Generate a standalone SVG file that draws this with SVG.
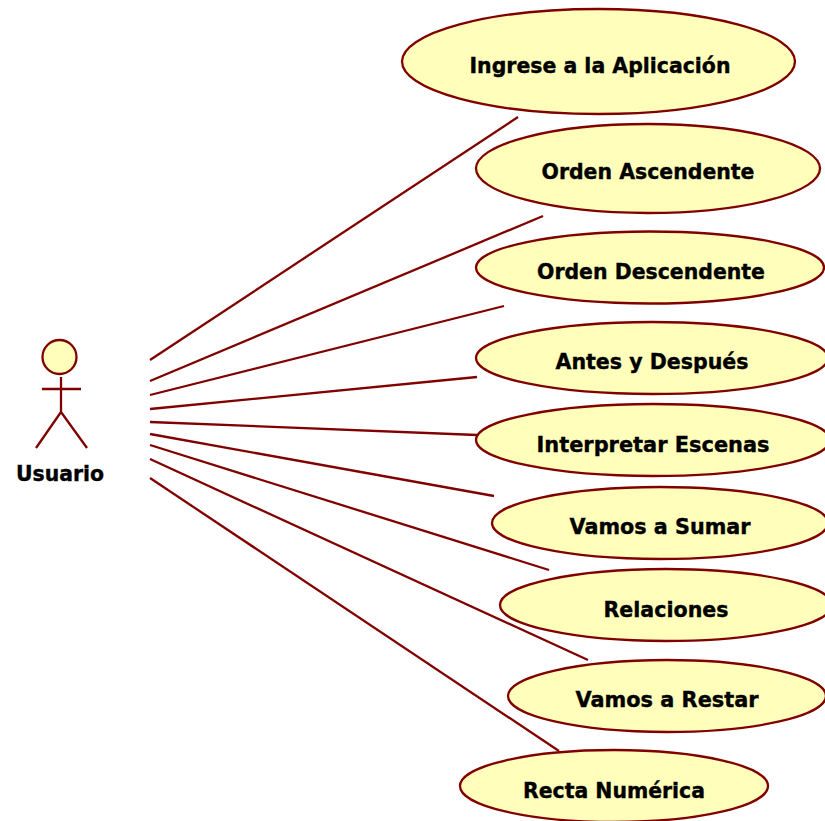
<svg xmlns="http://www.w3.org/2000/svg" width="825" height="821" viewBox="0 0 825 821">
<style>
.e{fill:#ffffbb;stroke:#800000;stroke-width:2.300}
.l{stroke:#800000;stroke-width:2.300;fill:none}
text{font-family:"DejaVu Sans",sans-serif;font-weight:700;font-size:22px;fill:#000;stroke:#000;stroke-width:0.400;text-anchor:middle}
</style>
<rect width="825" height="821" fill="#fff"/>
<g id="connectors" class="l">
<line x1="150" y1="360" x2="518" y2="117"/>
<line x1="150" y1="381" x2="543" y2="216"/>
<line x1="150" y1="395" x2="504" y2="306"/>
<line x1="150" y1="409" x2="477" y2="377"/>
<line x1="150" y1="422" x2="477" y2="435"/>
<line x1="150" y1="434" x2="494" y2="496"/>
<line x1="150" y1="445" x2="549" y2="570"/>
<line x1="150" y1="459" x2="588" y2="660"/>
<line x1="150" y1="478" x2="559" y2="751"/>
</g>
<g id="actor-usuario">
<circle cx="59.500" cy="357" r="17" class="e"/>
<path class="l" d="M61 377V412M42 389H81M61 412L36 448M61 412L87 448"/>
<text x="60" y="481" textLength="88" lengthAdjust="spacingAndGlyphs">Usuario</text>
</g>
<g id="uc-ingrese"><ellipse cx="598.500" cy="61.500" rx="196.500" ry="52.500" class="e"/><text x="600" y="73" textLength="261" lengthAdjust="spacingAndGlyphs">Ingrese a la Aplicación</text></g>
<g id="uc-asc"><ellipse cx="648" cy="168.500" rx="172" ry="44.500" class="e"/><text x="648" y="179" textLength="213" lengthAdjust="spacingAndGlyphs">Orden Ascendente</text></g>
<g id="uc-desc"><ellipse cx="650" cy="267.500" rx="174" ry="36" class="e"/><text x="651" y="279" textLength="228" lengthAdjust="spacingAndGlyphs">Orden Descendente</text></g>
<g id="uc-antes"><ellipse cx="652" cy="358" rx="176" ry="36" class="e"/><text x="652" y="369" textLength="193" lengthAdjust="spacingAndGlyphs">Antes y Después</text></g>
<g id="uc-escenas"><ellipse cx="653" cy="440" rx="177" ry="36" class="e"/><text x="653" y="452" textLength="233" lengthAdjust="spacingAndGlyphs">Interpretar Escenas</text></g>
<g id="uc-sumar"><ellipse cx="660" cy="523" rx="168" ry="36" class="e"/><text x="660" y="534" textLength="181" lengthAdjust="spacingAndGlyphs">Vamos a Sumar</text></g>
<g id="uc-relaciones"><ellipse cx="666" cy="605" rx="166" ry="36" class="e"/><text x="666" y="617" textLength="125" lengthAdjust="spacingAndGlyphs">Relaciones</text></g>
<g id="uc-restar"><ellipse cx="667" cy="696" rx="159" ry="36" class="e"/><text x="667" y="707" textLength="183" lengthAdjust="spacingAndGlyphs">Vamos a Restar</text></g>
<g id="uc-recta"><ellipse cx="614" cy="786" rx="154" ry="36" class="e"/><text x="614" y="798" textLength="182" lengthAdjust="spacingAndGlyphs">Recta Numérica</text></g>
</svg>
